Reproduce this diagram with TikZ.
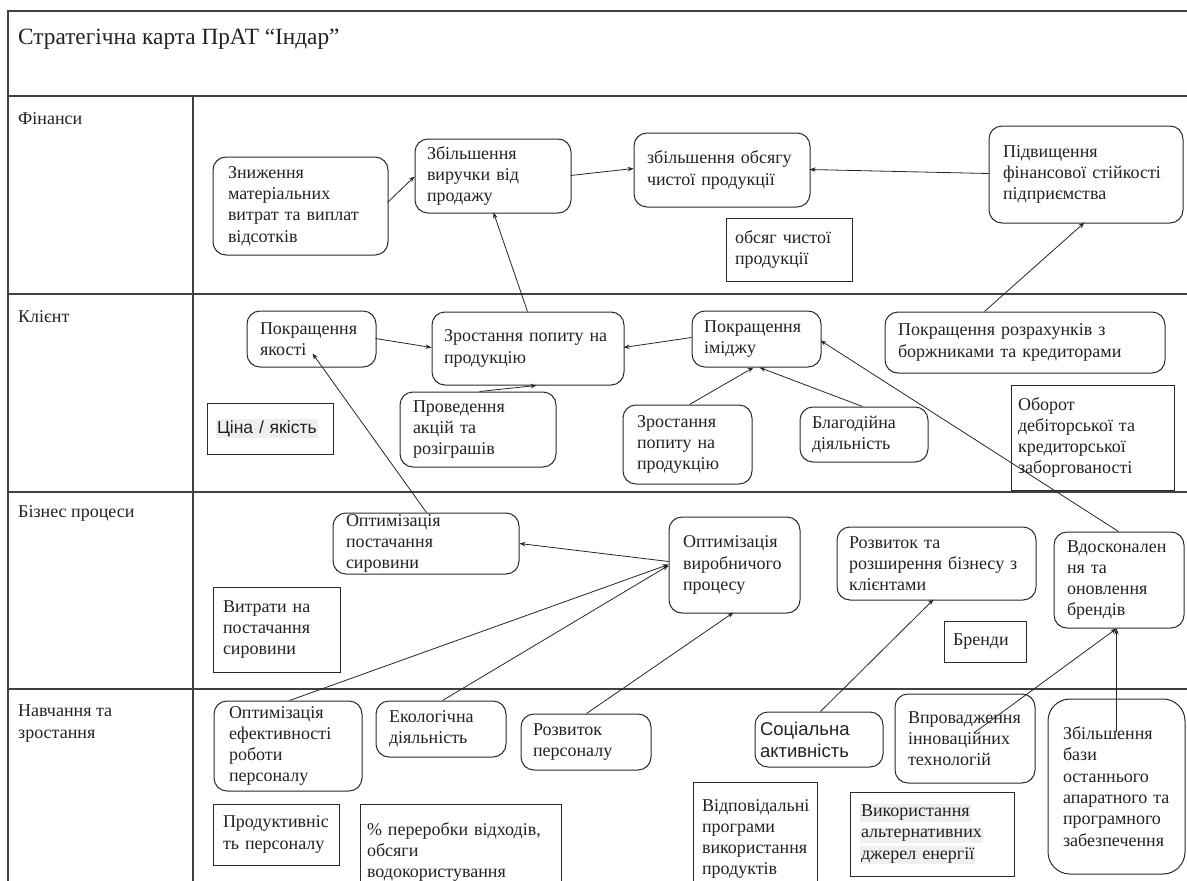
\documentclass[tikz,border=0pt]{standalone}
\usepackage{fontspec}
\setmainfont{Liberation Serif}
\newfontfamily\sansfnt{Liberation Sans}
\usetikzlibrary{arrows.meta,calc}
\definecolor{frm}{HTML}{404040}
\definecolor{bxl}{HTML}{2A2A2A}
\definecolor{txt}{HTML}{222222}
\definecolor{hlg}{HTML}{EFEFEF}
\newcommand\hlbox[1]{{\setlength{\fboxsep}{1pt}\colorbox{hlg}{#1}}}
\newcommand\bodyfnt{\fontsize{18}{21.3}\selectfont}
\tikzset{
  rbox/.style={draw=bxl, line width=1pt, rounded corners=13pt, align=left,
    inner ysep=0pt, text=txt, anchor=center, font=\bodyfnt},
  pbox/.style={draw=bxl, line width=0.9pt, align=left,
    inner ysep=0pt, text=txt, anchor=center, font=\bodyfnt},
  arr/.style={draw=black!85, line width=0.8pt, -{Stealth[length=6pt,width=4.5pt]}},
  frame/.style={draw=frm, line width=1.1pt},
  lbl/.style={anchor=base west, inner sep=0pt, text=txt, align=left,
    font=\fontsize{18}{21.6}\selectfont}
}
\begin{document}
\begin{tikzpicture}[x=1pt,y=-1pt]
\useasboundingbox (0,0) rectangle (1187,881);
\clip (0,0) rectangle (1187,881);
% table frame
\draw[frame] (8,881) -- (8,11) -- (1187,11);
\draw[frame] (8,96) -- (1187,96);
\draw[frame] (8,294) -- (1187,294);
\draw[frame] (8,492) -- (1187,492);
\draw[frame] (8,689) -- (1187,689);
\draw[frame] (193,96) -- (193,881);
% title and row labels
\node[lbl, font=\fontsize{23.3}{28}\selectfont] (title) at (18,44) {Стратегічна карта ПрАТ “Індар”};
\node[lbl] (lfin) at (18,124) {Фінанси};
\node[lbl] (lcli) at (18,322) {Клієнт};
\node[lbl] (lbiz) at (18,517) {Бізнес процеси};
\node[lbl] (llrn) at (18,738.5) {Навчання та\\зростання};
% Finance
\node[rbox, inner xsep=15pt, text width=145pt, minimum height=98pt] (zn) at (300.5,206) {Зниження\\матеріальних\\витрат~та~виплат\\відсотків};
\node[rbox, inner xsep=12pt, text width=132pt, minimum height=74pt] (zv) at (493,176) {Збільшення\\виручки~від\\продажу};
\node[rbox, inner xsep=13pt, text width=150pt, minimum height=74pt] (zo) at (722,170) {збільшення~обсягу\\чистої~продукції};
\node[rbox, inner xsep=14pt, text width=166pt, minimum height=97pt] (pf) at (1086,174.5) {Підвищення\\фінансової~стійкості\\підприємства};
\node[pbox, inner xsep=9pt, text width=108pt, minimum height=63pt] (och) at (789,249.5) {обсяг~чистої\\продукції};
% Client
\node[rbox, inner xsep=13pt, text width=103pt, minimum height=56pt] (kq) at (311.5,339) {Покращення\\якості};
\node[rbox, inner xsep=12pt, text width=168pt, minimum height=73pt] (zp) at (528,348.5) {Зростання~попиту~на\\продукцію};
\node[rbox, inner xsep=13pt, text width=130pt, minimum height=75pt] (pa) at (478,429.5) {Проведення\\акцій~та\\розіграшів};
\node[pbox, inner xsep=9pt, text width=108pt, minimum height=51pt, font=\sansfnt\fontsize{17.5}{21}\selectfont] (cy) at (270,428.5) {\hlbox{Ціна / якість}};
\node[rbox, inner xsep=12pt, text width=105pt, minimum height=56pt] (pi) at (756.5,339) {Покращення\\іміджу};
\node[rbox, inner xsep=14pt, text width=101pt, minimum height=79pt] (zp2) at (687.5,444.5) {Зростання\\попиту~на\\продукцію};
\node[rbox, inner xsep=12pt, text width=104pt, minimum height=55pt] (bd) at (864,434.5) {Благодійна\\діяльність};
\node[rbox, inner xsep=13pt, text width=254pt, minimum height=61pt] (pr) at (1025,342.5) {Покращення~розрахунків~з\\боржниками~та~кредиторами};
\node[pbox, inner xsep=7pt, text width=149pt, minimum height=105pt] (ob) at (1092.5,437.5) {Оборот\\дебіторської~та\\кредиторської\\заборгованості};
% Business processes
\node[rbox, inner xsep=13pt, text width=160pt, minimum height=61pt] (op) at (426,543.5) {Оптимізація\\постачання\\сировини};
\node[pbox, inner xsep=10pt, text width=107pt, minimum height=85pt] (vs) at (276.5,629.5) {Витрати~на\\постачання\\сировини};
\node[rbox, inner xsep=14pt, text width=103pt, minimum height=96pt] (ov) at (734.5,565) {Оптимізація\\виробничого\\процесу};
\node[rbox, inner xsep=12pt, text width=175pt, minimum height=73pt] (rr) at (936.5,563.5) {Розвиток~та\\розширення~бізнесу~з\\клієнтами};
\node[rbox, inner xsep=13pt, text width=104pt, minimum height=96pt] (vd) at (1119,580) {Вдосконален\\ня~та\\оновлення\\брендів};
\node[pbox, inner xsep=9pt, text width=64pt, minimum height=41pt] (br) at (985,641.5) {Бренди};
% Learning and growth
\node[rbox, inner xsep=15pt, text width=118pt, minimum height=90pt] (oe) at (288,746) {Оптимізація\\ефективності\\роботи\\персоналу};
\node[rbox, inner xsep=13pt, text width=104pt, minimum height=56pt] (ek) at (441,729) {Екологічна\\діяльність};
\node[rbox, inner xsep=12pt, text width=106pt, minimum height=56pt] (rp) at (586,742) {Розвиток\\персоналу};
\node[pbox, inner xsep=10pt, text width=106pt, minimum height=61pt] (pp) at (276,834.5) {Продуктивніс\\ть~персоналу};
\node[pbox, inner xsep=7pt, text width=187pt, minimum height=96pt] (pv) at (460.5,852) {\%~переробки~відходів,\\обсяги\\водокористування};
\node[rbox, inner xsep=5pt, text width=118pt, minimum height=55pt, font=\sansfnt\fontsize{18.5}{22}\selectfont] (sa) at (819,739.5) {Соціальна\\активність};
\node[rbox, inner xsep=13pt, text width=114pt, minimum height=89pt] (vi) at (965,738.5) {Впровадження\\інноваційних\\технологій};
\node[rbox, inner xsep=15pt, text width=107pt, minimum height=175pt, rounded corners=22pt] (zb) at (1116.5,786.5) {Збільшення\\бази\\останнього\\апаратного~та\\програмного\\забезпечення};
\node[pbox, inner xsep=9pt, text width=106pt, minimum height=114pt] (vp) at (755,839) {Відповідальні\\програми\\використання\\продуктів};
\node[pbox, inner xsep=10pt, text width=144pt, minimum height=84pt] (va) at (932,834) {\hlbox{Використання}\\\hlbox{альтернативних}\\\hlbox{джерел енергії}};
% connectors
\draw[arr] ($(zn.north west)+(175,46)$) -- ($(zv.north west)+(0,38)$);
\draw[arr] ($(zv.north west)+(156,37)$) -- ($(zo.north west)+(0,36)$);
\draw[arr] ($(pf.north west)+(0,48)$) -- ($(zo.north west)+(176,37)$);
\draw[arr] ($(pr.north west)+(100,0)$) -- ($(pf.north west)+(96,97)$);
\draw[arr] ($(zp.north west)+(96,0)$) -- ($(zv.north west)+(79,74)$);
\draw[arr] ($(kq.north west)+(129,28)$) -- ($(zp.north west)+(0,36)$);
\draw[arr] ($(pi.north west)+(0,27)$) -- ($(zp.north west)+(192,36)$);
\draw[arr] ($(pa.north west)+(80,0)$) -- ($(zp.north west)+(105,74)$);
\draw[arr] ($(zp2.north west)+(67,0)$) -- ($(pi.north west)+(62,57)$);
\draw[arr] ($(bd.north west)+(63,0)$) -- ($(pi.north west)+(68,57)$);
\draw[arr] ($(vd.north west)+(65,0)$) -- ($(pi.north west)+(129,30)$);
\draw[arr] ($(op.north west)+(94,0)$) -- ($(kq.north west)+(66,43)$);
\draw[arr] ($(ov.north west)+(0,45)$) -- ($(op.north west)+(187,31)$);
\draw[arr] ($(oe.north west)+(76,0)$) -- ($(ov.north west)+(0,48)$);
\draw[arr] ($(ek.north west)+(67,0)$) -- ($(ov.north west)+(0,49)$);
\draw[arr] ($(rp.north west)+(66,0)$) -- ($(ov.north west)+(65,96)$);
\draw[arr] ($(sa.north west)+(66,0)$) -- ($(rr.north west)+(97,73)$);
\draw[arr] ($(vi.north west)+(80,39)$) -- ($(vd.north west)+(63,97)$);
\draw[arr] ($(zb.north west)+(69,33)$) -- ($(vd.north west)+(63,97)$);
\end{tikzpicture}
\end{document}
